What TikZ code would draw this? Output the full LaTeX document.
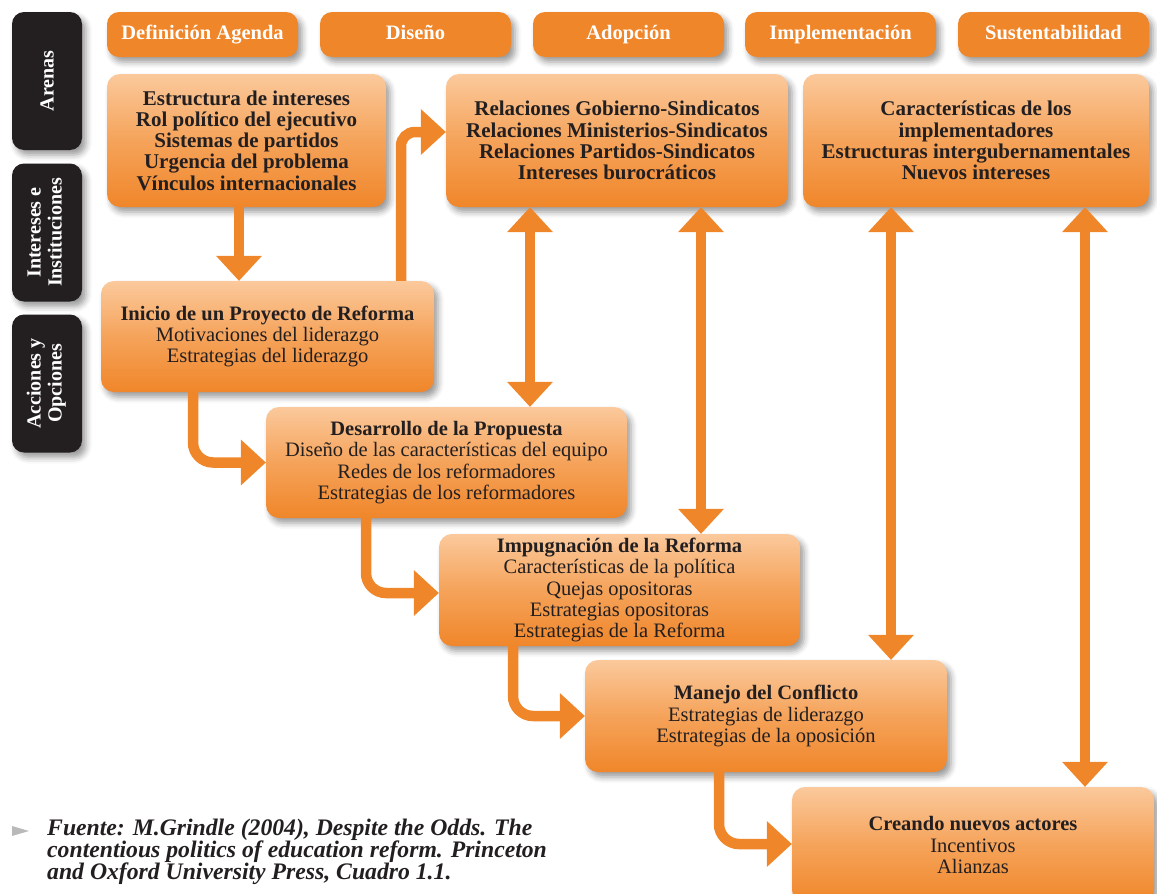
\documentclass[tikz,border=0pt]{standalone}
\usepackage{fontspec}
\setmainfont{Liberation Serif}
\usetikzlibrary{arrows.meta,shadows.blur}
\definecolor{orng}{RGB}{240,134,42}
\definecolor{peach}{RGB}{251,201,156}
\definecolor{midor}{RGB}{245,163,90}
\definecolor{ink}{RGB}{35,31,32}
\definecolor{bulletgray}{RGB}{185,185,185}
\begin{document}
\begin{tikzpicture}[x=1pt,y=-1pt,
  shad/.style={blur shadow={shadow xshift=4pt,shadow yshift=-5pt,shadow blur radius=6pt,shadow opacity=40}},
  card/.style={shad,rounded corners=13pt,top color=peach,bottom color=orng,middle color=midor,
    text=ink,align=center,inner sep=0pt,font=\fontsize{20.5}{21.2}\selectfont},
  hdr/.style={shad,fill=orng,rounded corners=12pt,text=white,inner sep=0pt,
    minimum width=191pt,minimum height=45pt,text height=14.5pt,text depth=4.5pt,
    font=\fontsize{20.5}{21}\selectfont\bfseries},
  side/.style={shad,fill=ink,rounded corners=12pt,text=white,inner sep=0pt,
    minimum width=70pt,minimum height=138pt,font=\fontsize{20}{21}\selectfont\bfseries},
  arr/.style={draw=orng,line width=10.5pt,-{Triangle[width=46pt,length=25pt,line width=0pt]}},
  darr/.style={draw=orng,line width=10.5pt,{Triangle[width=46pt,length=25pt,line width=0pt]}-{Triangle[width=46pt,length=25pt,line width=0pt]}}
]
\useasboundingbox (0,0) rectangle (1157,894);

% side labels
\node[side] (s1) at (47,81) {\rotatebox{90}{Arenas}};
\node[side] (s2) at (47,232.5) {\rotatebox{90}{\begin{tabular}{@{}c@{}}Intereses e\\Instituciones\end{tabular}}};
\node[side] (s3) at (47,383.5) {\rotatebox{90}{\begin{tabular}{@{}c@{}}Acciones y\\Opciones\end{tabular}}};

% headers
\node[hdr] (h1) at (202.5,34.5) {Definición Agenda};
\node[hdr] (h2) at (415.5,34.5) {Diseño};
\node[hdr] (h3) at (628.5,34.5) {Adopción};
\node[hdr] (h4) at (840.5,34.5) {Implementación};
\node[hdr] (h5) at (1053.5,34.5) {Sustentabilidad};

% arenas boxes
\node[card,minimum width=279pt,minimum height=133pt,font=\fontsize{21}{21.2}\selectfont\bfseries] (ag) at (246.5,140.5)
  {Estructura de intereses\\Rol político del ejecutivo\\Sistemas de partidos\\Urgencia del problema\\Vínculos internacionales};
\node[card,minimum width=342pt,minimum height=133pt,font=\fontsize{21}{21.2}\selectfont\bfseries] (rel) at (617,140.5)
  {Relaciones Gobierno-Sindicatos\\Relaciones Ministerios-Sindicatos\\Relaciones Partidos-Sindicatos\\Intereses burocráticos};
\node[card,minimum width=346pt,minimum height=133pt,font=\fontsize{21}{21.2}\selectfont\bfseries] (car) at (976,140.5)
  {Características de los\\implementadores\\Estructuras intergubernamentales\\Nuevos intereses};

% action boxes
\node[card,minimum width=333pt,minimum height=111pt] (ini) at (267.5,336.5)
  {\textbf{Inicio de un Proyecto de Reforma}\\Motivaciones del liderazgo\\Estrategias del liderazgo};
\node[card,minimum width=361pt,minimum height=111pt] (des) at (446.5,462.5)
  {\textbf{Desarrollo de la Propuesta}\\Diseño de las características del equipo\\Redes de los reformadores\\Estrategias de los reformadores};
\node[card,minimum width=361pt,minimum height=112pt] (imp) at (619.5,590)
  {\textbf{Impugnación de la Reforma}\\Características de la política\\Quejas opositoras\\Estrategias opositoras\\Estrategias de la Reforma};
\node[card,minimum width=362pt,minimum height=112pt] (man) at (766,716)
  {\textbf{Manejo del Conflicto}\\Estrategias de liderazgo\\Estrategias de la oposición};
\node[card,minimum width=362pt,minimum height=116pt] (cre) at (973,845)
  {\textbf{Creando nuevos actores}\\Incentivos\\Alianzas};

% arrows
\draw[arr] (ag.south -| 239,0) -- (ini.north -| 239,0);
\draw[arr,rounded corners=14pt] (ini.north -| 401,0) |- (rel.west |- 0,132);
\draw[arr,rounded corners=20pt] (ini.south -| 193,0) |- (des.west);
\draw[arr,rounded corners=20pt] (des.south -| 366,0) |- (imp.west |- 0,593);
\draw[arr,rounded corners=20pt] (imp.south -| 513,0) |- (man.west);
\draw[arr,rounded corners=20pt] (man.south -| 719,0) |- (cre.west |- 0,844);
\draw[darr] (rel.south -| 530,0) -- (des.north -| 530,0);
\draw[darr] (rel.south -| 701,0) -- (imp.north -| 701,0);
\draw[darr] (car.south -| 891,0) -- (man.north -| 891,0);
\draw[darr] (car.south -| 1085,0) -- (cre.north -| 1085,0);

% source
\fill[bulletgray] (12,826) -- (29,831) -- (12,836) -- cycle;
\node[anchor=north west,align=left,inner sep=0pt,text=ink,font=\fontsize{23.7}{22}\selectfont\bfseries\itshape] (src) at (47,819)
  {Fuente: M.Grindle (2004), Despite the Odds. The\\contentious politics of education reform. Princeton\\and Oxford University Press, Cuadro 1.1.};
\end{tikzpicture}
\end{document}
